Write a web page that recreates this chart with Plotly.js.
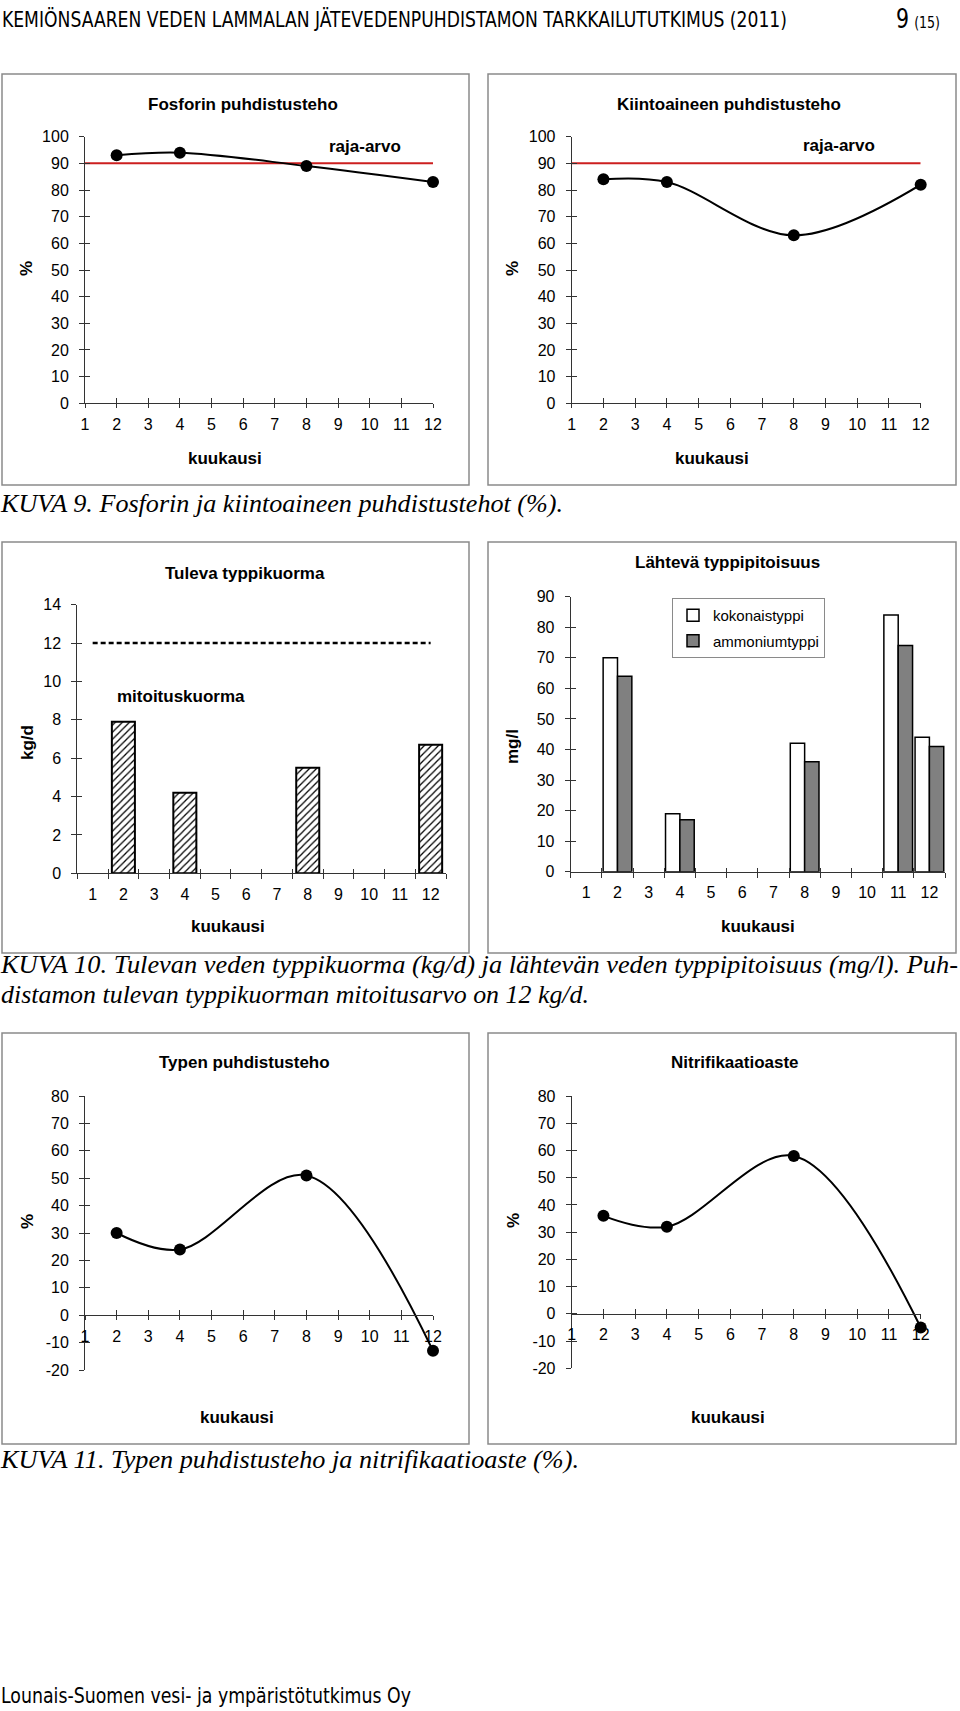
<!DOCTYPE html>
<html><head><meta charset="utf-8">
<script src="https://cdn.plot.ly/plotly-3.0.1.min.js"></script>
<style>
html,body{margin:0;padding:0;background:#fff}
body{width:960px;height:1711px;position:relative;overflow:hidden}
#plot{position:absolute;left:0;top:0;width:960px;height:1711px}
.t{position:absolute;white-space:nowrap;color:#000;transform-origin:0 50%}
.hdr{font-family:"Liberation Sans Narrow","DejaVu Sans Condensed","Arial Narrow","Liberation Sans",sans-serif;font-size:20.5px;line-height:22px}
.cap{font-family:"Liberation Serif","Times New Roman",serif;font-style:italic;font-size:25px;line-height:30px}
</style></head><body>
<div id="plot"></div>
<div class="t hdr" data-w="785" style="left:2px;top:9px">KEMIÖNSAAREN VEDEN LAMMALAN JÄTEVEDENPUHDISTAMON TARKKAILUTUTKIMUS (2011)</div>
<div class="t hdr" data-w="44" style="left:896px;top:4px;line-height:30px"><span style="font-size:26px">9</span> <span style="font-size:16px">(15)</span></div>
<div class="t cap" data-w="562" style="left:1px;top:489px">KUVA 9. Fosforin ja kiintoaineen puhdistustehot (%).</div>
<div class="t cap" data-w="957" style="left:1px;top:950px">KUVA 10. Tulevan veden typpikuorma (kg/d) ja lähtevän veden typpipitoisuus (mg/l). Puh-</div>
<div class="t cap" data-w="588" style="left:1px;top:980px">distamon tulevan typpikuorman mitoitusarvo on 12 kg/d.</div>
<div class="t cap" data-w="578" style="left:1px;top:1445px">KUVA 11. Typen puhdistusteho ja nitrifikaatioaste (%).</div>
<div class="t hdr" data-w="410" style="left:1px;top:1685px">Lounais-Suomen vesi- ja ympäristötutkimus Oy</div>
<script>
// ---- data ----
const months = [1,2,3,4,5,6,7,8,9,10,11,12];
const sampleMonths = [2,4,8,12];
const fosforiTeho = [93,94,89,83];
const kiintoTeho = [84,83,63,82];
const rajaArvo = 90;
const typpikuorma = [7.9,4.2,5.5,6.7];
const mitoitusKuorma = 12;
const lahtMonths = [2,4,8,11,12];
const kokonaistyppi = [70,19,42,84,44];
const ammoniumtyppi = [64,17,36,74,41];
const typenTeho = [30,24,51,-13];
const nitrifikaatio = [36,32,58,-5];
// tick labels
const pctTicks = [0,10,20,30,40,50,60,70,80,90,100];
const kgTicks = [0,2,4,6,8,10,12,14];
const mglTicks = [0,10,20,30,40,50,60,70,80,90];
const pctTicksNeg = [-20,-10,0,10,20,30,40,50,60,70,80];
const pctTickText = pctTicksNeg.map(v=>String(v)); // plain hyphen minus as in the original

const W=960,H=1711;
const px=x=>x/W, py=y=>1-y/H;
const lineClr='#333', red='#cc1f1f';

const panels=[
 {box:[2,74,469,485], xL:85, xR:433, xr:[1,12], yT:136.7, yB:403.3, yr:[0,100], yt:pctTicks},
 {box:[488,74,956,485], xL:571.7, xR:920.7, xr:[1,12], yT:136.7, yB:403.3, yr:[0,100], yt:pctTicks},
 {box:[2,542,469,953], xL:77.3, xR:446, xr:[0.5,12.5], yT:604.7, yB:873.3, yr:[0,14], yt:kgTicks, bar:true},
 {box:[488,542,956,953], xL:570.7, xR:945, xr:[0.5,12.5], yT:596.7, yB:871.7, yr:[0,90], yt:mglTicks, bar:true},
 {box:[2,1033,469,1444], xL:85, xR:433, xr:[1,12], yT:1096, yB:1370, yr:[-20,80], yt:pctTicksNeg, ytt:pctTickText, xPos:1315.3},
 {box:[488,1033,956,1444], xL:571.7, xR:920.7, xr:[1,12], yT:1096, yB:1368.3, yr:[-20,80], yt:pctTicksNeg, ytt:pctTickText, xPos:1314}
];

const layout={width:W,height:H,margin:{l:0,r:0,t:0,b:0,pad:0},
 paper_bgcolor:'#fff',plot_bgcolor:'rgba(0,0,0,0)',
 font:{family:'"Liberation Sans", Arial, sans-serif',size:16,color:'#000'},
 barmode:'group',bargap:0.08,bargroupgap:0,showlegend:true,
 legend:{x:px(672),y:py(598),xanchor:'left',yanchor:'top',bordercolor:'#8a8a8a',borderwidth:1,bgcolor:'#fff',
   font:{size:15,color:'#000'},traceorder:'grouped',tracegroupgap:3,itemwidth:30},
 shapes:[],annotations:[]};
const traces=[];
const ref=(l,i)=>i===1?l:l+i;
const key=(l,i)=>l+'axis'+(i===1?'':i);

panels.forEach((p,k)=>{
  const i=k+1, xs=ref('x',i), ys=ref('y',i);
  const xAnch = p.xPos!==undefined ? {anchor:'free',position:py(p.xPos)} : {anchor:ys};
  const base={domain:[px(p.xL),px(p.xR)],range:p.xr,showgrid:false,zeroline:false,fixedrange:true};
  layout[key('x',i)]=Object.assign({},base,xAnch,{tickmode:'array',tickvals:months,ticktext:months.map(String),
     ticks:'outside',ticklen:6,tickcolor:'rgba(0,0,0,0)',showline:true,linecolor:lineClr,linewidth:1,tickfont:{size:16}});
  const tv = p.bar ? months.concat([13]).map(m=>m-0.5) : months;
  layout[key('x',6+i)]=Object.assign({},base,xAnch,{overlaying:xs,tickmode:'array',tickvals:tv,ticks:'outside',
     ticklen:p.bar?5:4,tickcolor:lineClr,tickwidth:1,showticklabels:false,showline:false});
  layout[key('x',12+i)]=Object.assign({},base,xAnch,{overlaying:xs,tickmode:'array',tickvals:tv,ticks:'inside',
     ticklen:p.bar?4:5,tickcolor:lineClr,tickwidth:1,showticklabels:false,showline:false});
  const ybase={range:p.yr,anchor:xs,tickmode:'array',tickvals:p.yt,showgrid:false,zeroline:false,fixedrange:true};
  layout[key('y',i)]=Object.assign({},ybase,{domain:[py(p.yB),py(p.yT)],ticks:'outside',ticklen:12,tickcolor:'rgba(0,0,0,0)',
     ticktext:(p.ytt||p.yt.map(String)),showline:true,linecolor:lineClr,linewidth:1,tickfont:{size:16}});
  layout[key('y',6+i)]=Object.assign({},ybase,{overlaying:ys,ticks:'outside',ticklen:5,tickcolor:lineClr,tickwidth:1,
     showticklabels:false,showline:false});
  layout[key('y',12+i)]=Object.assign({},ybase,{overlaying:ys,ticks:'inside',ticklen:5,tickcolor:lineClr,tickwidth:1,
     showticklabels:false,showline:false});
  [[ref('x',6+i),ys],[ref('x',12+i),ys],[xs,ref('y',6+i)],[xs,ref('y',12+i)]].forEach(([a,b])=>traces.push(
     {type:'scatter',mode:'markers',x:[],y:[],xaxis:a,yaxis:b,showlegend:false,hoverinfo:'skip'}));
  const b=p.box;
  layout.shapes.push({type:'rect',xref:'paper',yref:'paper',x0:px(b[0]),x1:px(b[2]),y0:py(b[1]),y1:py(b[3]),
     line:{color:'#8a8a8a',width:1.5},layer:'below'});
});

function curve(vals,i){
  return {type:'scatter',mode:'lines+markers',x:sampleMonths,y:vals,xaxis:ref('x',i),yaxis:ref('y',i),
    line:{shape:'spline',smoothing:1,color:'#000',width:2},marker:{size:12,color:'#000'},cliponaxis:false,showlegend:false,hoverinfo:'skip'};
}
function limit(v,i){
  return {type:'scatter',mode:'lines',x:[months[0],months[months.length-1]],y:[v,v],xaxis:ref('x',i),yaxis:ref('y',i),
    line:{color:red,width:2},showlegend:false,hoverinfo:'skip',cliponaxis:false};
}
traces.push(limit(rajaArvo,1), curve(fosforiTeho,1));
traces.push(limit(rajaArvo,2), curve(kiintoTeho,2));
traces.push({type:'bar',x:sampleMonths,y:typpikuorma,xaxis:'x3',yaxis:'y3',width:0.75,showlegend:false,hoverinfo:'skip',
  marker:{color:'#fff',line:{color:'#000',width:2},pattern:{shape:'/',fgcolor:'#000',bgcolor:'#fff',size:5,solidity:0.25}}});
traces.push({type:'scatter',mode:'lines',x:[months[0],months[months.length-1]],y:[mitoitusKuorma,mitoitusKuorma],xaxis:'x3',yaxis:'y3',
  line:{color:'#000',width:2.5,dash:'5px,3px'},showlegend:false,hoverinfo:'skip'});
traces.push({type:'bar',name:'kokonaistyppi',x:lahtMonths,y:kokonaistyppi,xaxis:'x4',yaxis:'y4',legendgroup:'a',
  marker:{color:'#fff',line:{color:'#000',width:1.5}},hoverinfo:'skip'});
traces.push({type:'bar',name:'ammoniumtyppi',x:lahtMonths,y:ammoniumtyppi,xaxis:'x4',yaxis:'y4',legendgroup:'b',
  marker:{color:'#808080',line:{color:'#000',width:1.5}},hoverinfo:'skip'});
traces.push(curve(typenTeho,5), curve(nitrifikaatio,6));

function ann(text,x,y,opt){
  layout.annotations.push(Object.assign({text:text,x:px(x),y:py(y),xref:'paper',yref:'paper',showarrow:false,
    xanchor:'center',yanchor:'middle',font:{size:17,color:'#000'}},opt||{}));
}
const rot={textangle:-90};
ann('<b>Fosforin puhdistusteho</b>',243,104);
ann('<b>raja-arvo</b>',365,146);
ann('<b>%</b>',27,269,rot);
ann('<b>kuukausi</b>',225,458);
ann('<b>Kiintoaineen puhdistusteho</b>',729,104);
ann('<b>raja-arvo</b>',839,145);
ann('<b>%</b>',513,269,rot);
ann('<b>kuukausi</b>',712,458);
ann('<b>Tuleva typpikuorma</b>',245,573);
ann('<b>mitoituskuorma</b>',181,697);
ann('<b>kg/d</b>',28,743,rot);
ann('<b>kuukausi</b>',228,926);
ann('<b>Lähtevä typpipitoisuus</b>',727,563);
ann('<b>mg/l</b>',513,747,rot);
ann('<b>kuukausi</b>',758,926);
ann('<b>Typen puhdistusteho</b>',245,1062);
ann('<b>%</b>',27,1222,rot);
ann('<b>kuukausi</b>',237,1417);
ann('<b>Nitrifikaatioaste</b>',735,1062);
ann('<b>%</b>',513,1221,rot);
ann('<b>kuukausi</b>',728,1417);

Plotly.newPlot('plot',traces,layout,{staticPlot:true,displayModeBar:false});

function fit(){
  document.querySelectorAll('.t[data-w]').forEach(el=>{
    el.style.transform='none';
    const w=el.getBoundingClientRect().width;
    const t=parseFloat(el.getAttribute('data-w'));
    if(w>0) el.style.transform='scaleX('+(t/w)+')';
  });
}
fit();
if(document.fonts&&document.fonts.ready) document.fonts.ready.then(fit);
</script>
</body></html>
